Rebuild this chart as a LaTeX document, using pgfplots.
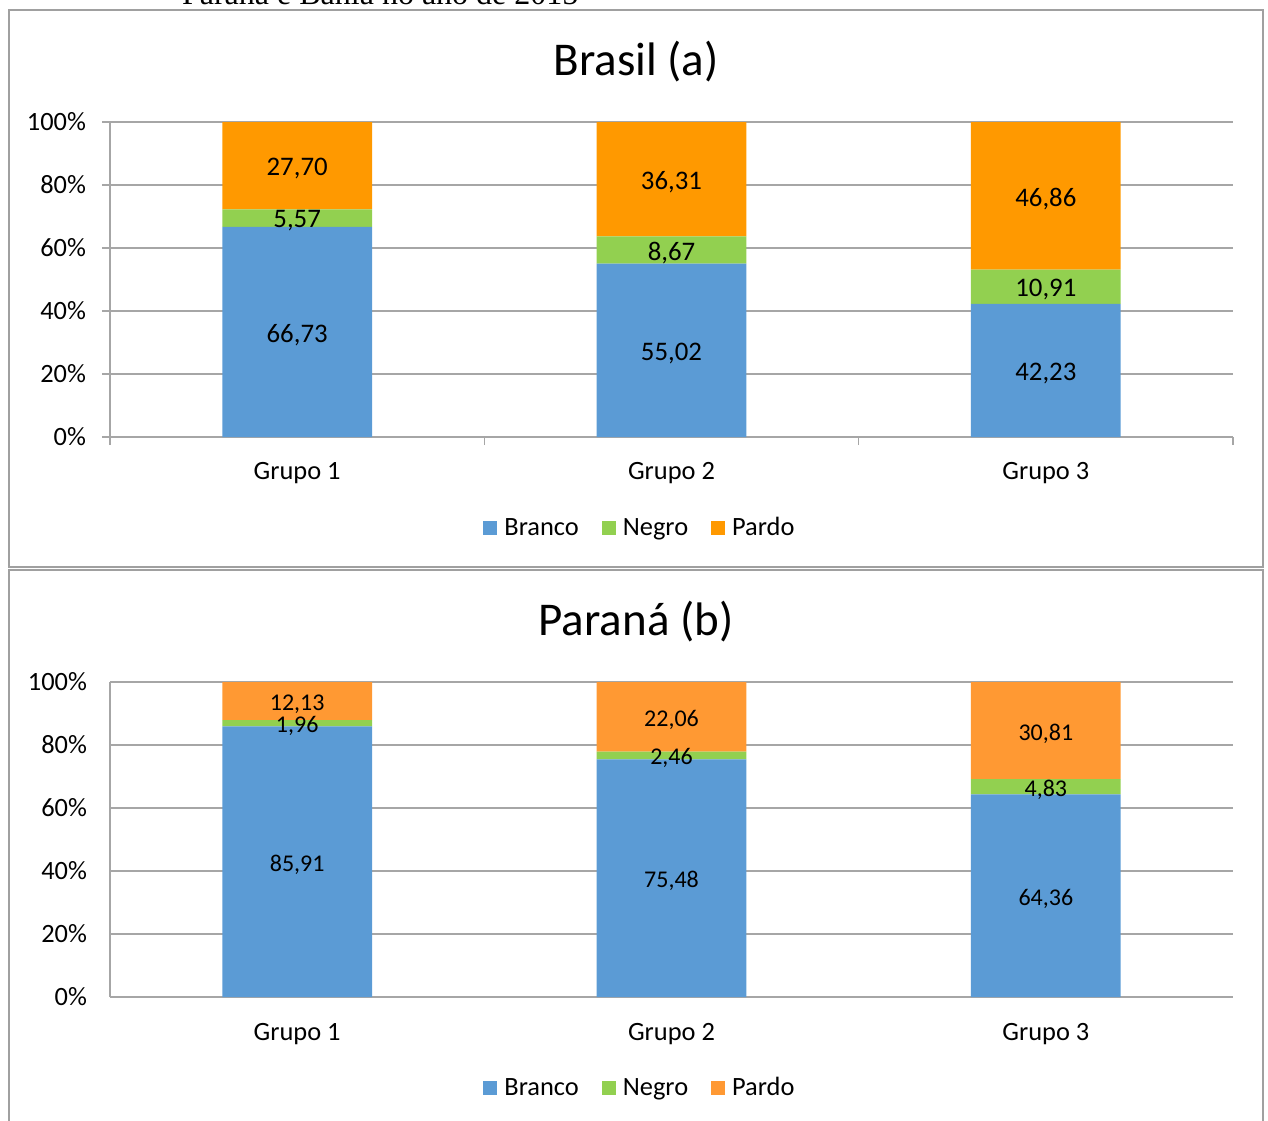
\documentclass[border=0pt]{standalone}
\usepackage{pgfplots}
\pgfplotsset{compat=1.18}
\usepackage{pgfplotstable}
\usepackage{fontspec}
\setmainfont{Carlito}
\newfontfamily\timesfont{Liberation Serif}
\definecolor{cBranco}{HTML}{5B9BD5}
\definecolor{cNegro}{HTML}{92D050}
\definecolor{cPardoA}{HTML}{FF9900}
\definecolor{cPardoB}{HTML}{FF9933}
\definecolor{cGrid}{RGB}{166,166,166}
\definecolor{cFrame}{RGB}{160,160,160}

\pgfplotstableread{
g b n p
0 66.73 5.57 27.70
1 55.02 8.67 36.31
2 42.23 10.91 46.86
}\brasil
\pgfplotstableread{
g b n p
0 85.91 1.96 12.13
1 75.48 2.46 22.06
2 64.36 4.83 30.81
}\parana

\pgfplotsset{
  base/.style={
    scale only axis, width=561.5pt, height=157.5pt,
    anchor=south west,
    xmin=-0.5, xmax=2.5, ymin=0, ymax=100,
    /pgf/number format/assume math mode=true,
  },
  sq/.style={legend image code/.code={\fill[##1] (0pt,-3.5pt) rectangle (7pt,3.5pt);}},
  chart/.style={
    base,
    ybar stacked, bar width=0.4,
    axis x line*=bottom, axis y line*=left,
    axis line style={cGrid, line width=0.8pt},
    ytick={0,20,...,100},
    yticklabel={\pgfmathprintnumber{\tick}\%},
    ymajorgrids, grid style={cGrid, line width=0.8pt},
    xtick={-0.5,0.5,1.5,2.5}, xticklabels={},
    extra x ticks={0,1,2},
    extra x tick labels={Grupo 1,Grupo 2,Grupo 3},
    extra x tick style={tick style={draw=none}, grid=none},
    tick style={cGrid, line width=0.8pt},
    tick align=outside,
    tick label style={font=\fontsize{13.2}{15}\selectfont},
    legend columns=3,
    legend style={draw=none, fill=none, at={(0.4728,-0.289)}, anchor=center,
      font=\fontsize{13.2}{15}\selectfont,
      /tikz/every odd column/.append style={column sep=1.5pt},
      /tikz/every even column/.append style={column sep=9.5pt}},
  },
  lbl/.style={
    base, hide axis,
    nodes near coords={\pgfmathprintnumber[fixed,fixed zerofill,precision=2,use comma]{\pgfplotspointmeta}},
    nodes near coords style={anchor=center, yshift=-1.5pt},
  }
}

\begin{document}
\begin{tikzpicture}
\useasboundingbox (0,0) rectangle (634pt,-560pt);
\clip (0,0) rectangle (634pt,-560pt);
\node[anchor=base west, font=\timesfont\fontsize{16}{19}\selectfont] at (87.5pt,-2pt) {Paraná e Bahia no ano de 2015};
\draw[cFrame, line width=1.2pt] (4.5pt,-5pt) rectangle (631.5pt,-283.5pt);
\draw[cFrame, line width=1.2pt] (4.5pt,-575pt) -- (4.5pt,-285pt) -- (631.5pt,-285pt) -- (631.5pt,-575pt);
\node[font=\fontsize{23.5}{28}\selectfont] at (318pt,-31pt) {Brasil (a)};
\node[font=\fontsize{23.5}{28}\selectfont] at (318pt,-311pt) {Paraná (b)};

% ---- Brasil
\begin{axis}[chart, at={(55pt,-218.5pt)}, major tick length=4pt,
  yticklabel style={xshift=-4.5pt}, xticklabel style={yshift=-5pt}]
\addplot[fill=cBranco, draw=none, sq] table[x=g, y=b] {\brasil};
\addplot[fill=cNegro, draw=none, sq] table[x=g, y=n] {\brasil};
\addplot[fill=cPardoA, draw=none, sq] table[x=g, y=p] {\brasil};
\legend{Branco, Negro, Pardo}
\end{axis}
\begin{axis}[lbl, at={(55pt,-218.5pt)}, every node near coord/.append style={font=\fontsize{13.4}{15}\selectfont}]
\addplot[draw=none, mark=none, point meta=explicit] table[x=g, y expr=\thisrow{b}/2, meta=b] {\brasil};
\addplot[draw=none, mark=none, point meta=explicit] table[x=g, y expr=\thisrow{b}+\thisrow{n}/2, meta=n] {\brasil};
\addplot[draw=none, mark=none, point meta=explicit] table[x=g, y expr=\thisrow{b}+\thisrow{n}+\thisrow{p}/2, meta=p] {\brasil};
\end{axis}

% ---- Parana
\begin{axis}[chart, at={(55pt,-498.5pt)}, major tick length=0pt,
  yticklabel style={xshift=-8pt}, xticklabel style={yshift=-9.5pt}]
\addplot[fill=cBranco, draw=none, sq] table[x=g, y=b] {\parana};
\addplot[fill=cNegro, draw=none, sq] table[x=g, y=n] {\parana};
\addplot[fill=cPardoB, draw=none, sq] table[x=g, y=p] {\parana};
\legend{Branco, Negro, Pardo}
\end{axis}
\begin{axis}[lbl, at={(55pt,-498.5pt)}, every node near coord/.append style={font=\fontsize{12}{14}\selectfont}]
\addplot[draw=none, mark=none, point meta=explicit] table[x=g, y expr=\thisrow{b}/2, meta=b] {\parana};
\addplot[draw=none, mark=none, point meta=explicit] table[x=g, y expr=\thisrow{b}+\thisrow{n}/2, meta=n] {\parana};
\addplot[draw=none, mark=none, point meta=explicit] table[x=g, y expr=\thisrow{b}+\thisrow{n}+\thisrow{p}/2, meta=p] {\parana};
\end{axis}
\end{tikzpicture}
\end{document}
